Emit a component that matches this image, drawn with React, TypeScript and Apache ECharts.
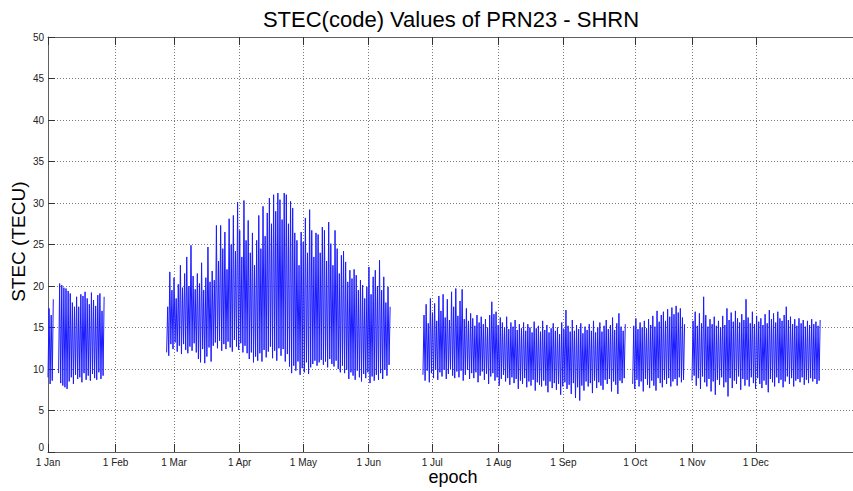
import React, { useEffect, useRef } from "react";
import * as echarts from "echarts";

// Month tick positions (epoch axis units) and labels
const monthTicks = [0, 31.9, 59.5, 90.5, 120.6, 151.4, 181.4, 212.7, 243.3, 277.2, 304.2, 334.1];
const monthLabels = ["1 Jan", "1 Feb", "1 Mar", "1 Apr", "1 May", "1 Jun", "1 Jul", "1 Aug", "1 Sep", "1 Oct", "1 Nov", "1 Dec"];
const yTicks = [0, 5, 10, 15, 20, 25, 30, 35, 40, 45, 50];

// Segment A1 (days 0-2)
const segA1Start = 0;
const segA1Hi = [17.3, 16.5, 18.4];
const segA1Lo = [9.0, 8.2, 8.6];

// Segment A2 (days 5-26)
const segA2Start = 5;
const segA2Hi = [20.3, 20.1, 19.8, 19.7, 19.4, 19.1, 18.0, 17.5, 18.7, 17.5, 19.0, 18.8, 19.3, 18.5, 17.8, 19.2, 18.3, 17.6, 18.9, 19.1, 17.0, 18.7];
const segA2Lo = [9.5, 8.3, 8.0, 7.8, 7.6, 8.5, 9.0, 8.2, 9.3, 8.8, 9.0, 8.4, 9.5, 8.7, 9.2, 8.6, 9.4, 8.9, 8.7, 9.6, 8.8, 9.2];

// Segment B (days 56-161)
const segBStart = 56;
const segBHi = [
  17.5, 21.7, 19.5, 21.0,
  18.5, 20.2, 22.5, 19.8, 21.5,
  23.5, 20.0, 24.9, 21.2, 19.6,
  21.5, 20.3, 22.8, 19.5, 21.0,
  24.7, 20.5, 21.8, 20.7, 27.3,
  23.0, 27.3, 24.5, 26.5, 22.0,
  28.1, 25.0, 28.5, 24.2, 30.1,
  26.7, 23.5, 30.3, 25.5, 27.9,
  24.0, 26.4, 22.5, 25.5, 28.5,
  24.5, 29.6, 26.0, 28.8, 30.6,
  27.5, 31.0, 29.0, 31.2, 30.4,
  28.0, 31.2, 31.0, 27.5, 30.2,
  29.4, 26.4, 25.5, 22.5, 26.5,
  25.3, 28.2, 24.0, 29.2, 26.7,
  23.5, 26.4, 26.2, 24.0, 27.1,
  26.7, 23.0, 27.7, 25.1, 22.5,
  26.7, 24.5, 21.5, 23.7, 24.2,
  22.9, 20.5, 21.9, 20.9, 22.0,
  21.3, 19.5, 20.7, 20.1, 18.5,
  19.9, 22.3, 19.0, 21.1, 21.9,
  20.0, 23.1, 19.5, 21.1, 18.0,
  19.9, 17.5,
];
const segBLo = [
  12.0, 11.6, 13.0, 12.4,
  13.2, 12.1, 12.8, 11.8, 13.0,
  12.3, 11.9, 12.7, 12.2, 13.1,
  12.0, 11.2, 10.8, 12.4, 10.7,
  11.5, 12.6, 10.9, 12.8, 13.2,
  12.5, 13.4, 12.2, 13.0, 12.4,
  13.3, 12.6, 12.1, 13.5, 12.7,
  12.3, 13.1, 12.0, 12.8, 11.9,
  11.2, 12.0, 10.8, 11.5, 11.0,
  11.9, 10.9, 12.3, 11.4, 12.1,
  12.7, 11.3, 12.2, 11.0, 12.5,
  11.6, 12.4, 10.9, 11.8, 10.3,
  9.5, 10.4, 9.8, 10.9, 9.3,
  10.1, 9.6, 10.8, 9.4, 10.2,
  10.6, 11.0, 10.4, 10.8, 11.1,
  10.5, 10.9, 10.2, 11.2, 10.6,
  10.3, 11.0, 10.0, 9.6, 10.4,
  9.5, 9.9, 8.8, 9.6, 9.2,
  8.7, 9.8, 9.0, 8.5, 9.4,
  8.9, 9.6, 8.3, 9.1, 8.6,
  9.3, 8.7, 9.5, 8.8, 9.9,
  9.2, 10.5,
];

// Segment C (days 177-272)
const segCStart = 177;
const segCHi = [
  16.5, 17.8, 15.5,
  18.5, 16.8, 17.9, 15.8, 18.8,
  17.0, 19.0, 16.2, 18.4, 15.9,
  19.3, 17.5, 19.7, 16.4, 18.2,
  19.6, 16.0, 17.3, 15.8, 16.7,
  16.1, 15.2, 16.5, 15.6, 16.3,
  15.4, 16.0, 15.0, 16.5, 18.1,
  16.6, 16.9, 15.3, 16.2, 15.6,
  15.0, 16.3, 14.8, 15.6, 15.1,
  15.9, 14.7, 15.4, 14.9, 15.6,
  14.6, 15.4, 15.0, 14.4, 15.7,
  14.9, 15.2, 14.5, 15.8, 14.7,
  15.3, 14.4, 14.9, 15.5, 14.6,
  15.0, 14.2, 15.6, 14.8, 17.1,
  15.2, 14.5, 15.9, 14.6, 15.3,
  14.8, 15.5, 14.3, 15.1, 14.7,
  15.4, 14.6, 15.8, 14.4, 15.0,
  15.6, 14.5, 15.2, 15.9, 14.8,
  15.3, 16.2, 14.7, 15.5, 16.7,
  15.1, 14.6, 15.4,
];
const segCLo = [
  9.3, 8.6, 9.8,
  8.4, 9.5, 8.9, 9.9, 8.7,
  9.6, 9.1, 9.9, 8.8, 9.4,
  10.0, 9.2, 8.9, 9.7, 9.0,
  9.8, 8.6, 9.3, 9.9, 8.8,
  9.5, 8.9, 9.6, 8.4, 9.2,
  9.7, 8.7, 9.4, 8.2, 9.1,
  9.5, 8.6, 9.0, 8.0, 8.8,
  9.3, 8.5, 8.9, 8.1, 9.0,
  8.3, 8.8, 7.6, 8.6, 8.2,
  8.9, 7.8, 8.5, 8.0, 8.7,
  7.4, 8.4, 8.1, 7.9, 8.6,
  8.0, 7.2, 8.5, 7.7, 8.3,
  7.5, 8.2, 6.9, 7.9, 8.4,
  7.6, 8.1, 7.0, 8.3, 6.5,
  7.8, 6.2, 8.0, 7.4, 8.5,
  7.9, 8.3, 7.1, 8.6, 7.7,
  8.4, 8.0, 7.5, 8.7, 8.2,
  8.8, 7.3, 8.5, 8.1, 7.0,
  8.6, 8.3, 8.9,
];

// Segment C2 (days 276-300)
const segC2Start = 276;
const segC2Hi = [15.2, 16.1, 14.8, 15.6, 15.0, 15.8, 14.9, 16.0, 15.3, 16.4, 15.1, 17.0, 15.7, 16.5, 16.9, 15.8, 17.2, 16.3, 17.4, 16.6, 17.6, 16.8, 17.3, 16.2, 15.4];
const segC2Lo = [8.2, 7.6, 8.7, 7.9, 8.5, 7.3, 8.8, 8.1, 7.7, 8.6, 8.0, 7.4, 8.9, 8.3, 7.8, 8.7, 8.2, 8.9, 7.9, 8.5, 8.8, 8.0, 9.0, 8.4, 8.7];

// Segment D (days 304-364)
const segDStart = 304;
const segDHi = [
  15.8, 16.9, 15.2, 16.7, 15.5, 18.7,
  16.5, 15.1, 16.0, 15.4, 16.3,
  15.2, 15.8, 15.0, 16.4, 15.3,
  17.3, 15.9, 16.8, 15.7, 17.0,
  16.1, 15.6, 16.6, 15.9, 18.4,
  16.2, 15.5, 16.9, 15.4, 16.4,
  15.7, 16.1, 15.3, 16.6, 15.5,
  17.1, 16.0, 16.7, 15.6, 16.9,
  16.1, 15.8, 16.5, 17.5, 15.9,
  16.3, 15.4, 16.0, 15.2, 16.1,
  15.5, 15.9, 15.1, 15.8, 15.3,
  16.0, 15.4, 15.7, 15.2, 15.9,
];
const segDLo = [
  8.6, 9.2, 8.0, 8.9, 7.6, 9.1,
  8.4, 7.9, 8.8, 7.3, 8.5,
  6.9, 8.7, 8.1, 9.0, 7.8,
  8.4, 6.7, 8.9, 7.7, 8.6,
  8.2, 9.1, 7.5, 8.8, 8.0,
  8.7, 7.9, 9.0, 8.3, 7.6,
  8.9, 8.2, 7.7, 8.6, 8.1,
  7.2, 8.8, 8.4, 7.9, 9.0,
  8.3, 8.7, 7.8, 8.5, 9.1,
  8.2, 8.9, 7.9, 8.6, 8.8,
  8.4, 9.0, 8.1, 8.7, 8.3,
  8.9, 8.5, 8.8, 8.2, 8.6,
];

const segments = [
  { start: segA1Start, hi: segA1Hi, lo: segA1Lo },
  { start: segA2Start, hi: segA2Hi, lo: segA2Lo },
  { start: segBStart, hi: segBHi, lo: segBLo },
  { start: segCStart, hi: segCHi, lo: segCLo },
  { start: segC2Start, hi: segC2Hi, lo: segC2Lo },
  { start: segDStart, hi: segDHi, lo: segDLo },
];

function buildSeg(seg: { start: number; hi: number[]; lo: number[] }) {
  const pts: number[][] = [];
  for (let i = 0; i < seg.hi.length; i++) {
    pts.push([seg.start + i, seg.lo[i]]);
    pts.push([seg.start + i + 0.5, seg.hi[i]]);
  }
  return pts;
}

export default function App() {
  const ref = useRef<HTMLDivElement>(null);
  useEffect(() => {
    if (!ref.current) return;
    const chart = echarts.init(ref.current, undefined, { renderer: "svg" });
    const font = "'Liberation Sans', Arial, Helvetica, sans-serif";
    const gridColor = "#7a7a7a";
    const axisColor = "#606060";
    const xAxisBase = {
      type: "value" as const,
      min: 0,
      max: 380,
      axisLine: { show: true, onZero: false, lineStyle: { color: axisColor, width: 1 } },
      axisTick: { show: true, inside: true, length: 8, customValues: monthTicks, lineStyle: { color: "#333" } },
    };
    chart.setOption({
      animation: false,
      backgroundColor: "#ffffff",
      grid: { left: 48, top: 37, width: 810.7, height: 415, containLabel: false },
      xAxis: [
        {
          ...xAxisBase,
          position: "bottom",
          axisLabel: {
            show: true,
            customValues: monthTicks,
            margin: 5,
            fontSize: 10,
            lineHeight: 10,
            fontFamily: font,
            color: "#222",
            formatter: (v: number) => {
              let best = 0;
              for (let i = 0; i < monthTicks.length; i++) {
                if (Math.abs(monthTicks[i] - v) < Math.abs(monthTicks[best] - v)) best = i;
              }
              return monthLabels[best];
            },
          },
          splitLine: { show: true, lineStyle: { color: gridColor, type: [1, 2], width: 1 } },
        },
        {
          ...xAxisBase,
          position: "top",
          axisLabel: { show: false },
          splitLine: { show: false },
        },
      ],
      yAxis: {
        type: "value",
        min: 0,
        max: 50,
        interval: 5,
        axisLine: { show: true, lineStyle: { color: axisColor, width: 1 } },
        axisTick: { show: true, inside: true, length: 7, lineStyle: { color: "#333" } },
        axisLabel: {
          margin: 4,
          fontSize: 10,
          lineHeight: 9,
          fontFamily: font,
          color: "#222",
          customValues: yTicks,
          verticalAlignMinLabel: "bottom",
        },
        splitLine: { show: true, lineStyle: { color: gridColor, type: [1, 2], width: 1 } },
      },
      graphic: [
        {
          type: "text",
          x: 451,
          y: 19.5,
          style: {
            text: "STEC(code) Values of PRN23 - SHRN",
            fontSize: 22,
            fontFamily: font,
            fill: "#000",
            textAlign: "center",
            textVerticalAlign: "middle",
          },
        },
        {
          type: "text",
          x: 453,
          y: 477,
          style: {
            text: "epoch",
            fontSize: 18,
            fontFamily: font,
            fill: "#000",
            textAlign: "center",
            textVerticalAlign: "middle",
          },
        },
        {
          type: "text",
          x: 18.5,
          y: 241.7,
          rotation: Math.PI / 2,
          style: {
            text: "STEC (TECU)",
            fontSize: 19,
            fontFamily: font,
            fill: "#000",
            textAlign: "center",
            textVerticalAlign: "middle",
          },
        },
      ],
      series: segments.map((seg) => ({
        type: "line",
        data: buildSeg(seg),
        showSymbol: false,
        symbol: "none",
        lineStyle: { color: "#1a1aff", width: 1 },
        itemStyle: { color: "#1a1aff" },
        silent: true,
        z: 3,
      })),
    });
    return () => chart.dispose();
  }, []);
  return (
    <div
      ref={ref}
      style={{ position: "fixed", left: 0, top: 0, width: 853, height: 491, background: "#fff" }}
    />
  );
}
